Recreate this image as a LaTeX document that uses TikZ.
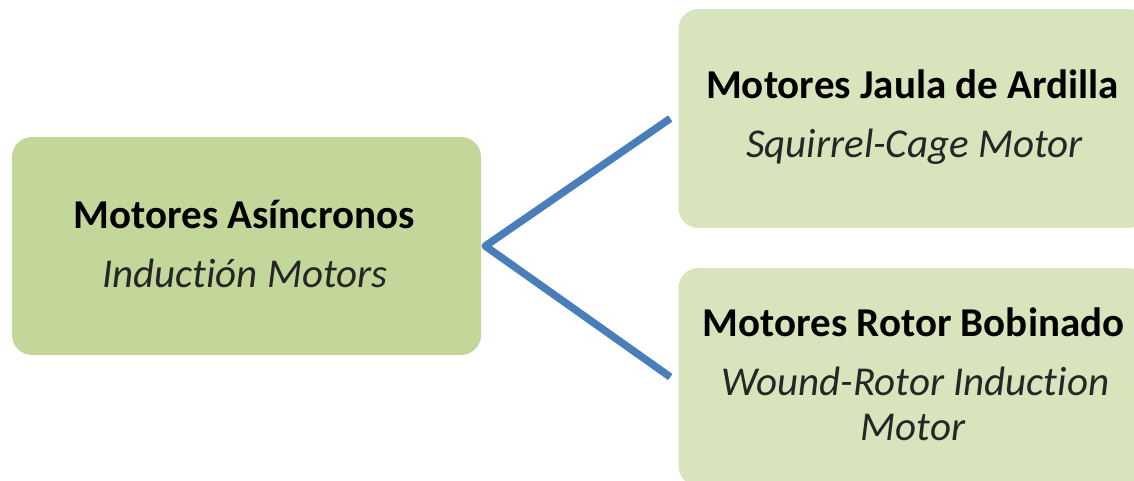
\documentclass[tikz,border=0pt]{standalone}
\usepackage{fontspec}
\setmainfont{Carlito}[Ligatures=NoCommon]
\usetikzlibrary{calc}
\definecolor{darkfill}{RGB}{196,215,155}
\definecolor{lightfill}{RGB}{216,228,188}
\definecolor{linkblue}{RGB}{74,126,187}
\begin{document}
\begin{tikzpicture}[x=1pt,y=-1pt,
  box/.style={rounded corners=20pt, minimum width=469pt, minimum height=218pt, inner sep=0pt, draw=none},
  title/.style={anchor=base, font=\fontsize{41}{45}\selectfont\bfseries, inner sep=0pt},
  sub/.style={anchor=base, font=\fontsize{41}{45}\selectfont\itshape, text=black!85, inner sep=0pt},
  conn/.style={draw=linkblue, line width=7.5pt, line join=round}]
\useasboundingbox (0,0) rectangle (1134,480);
\clip (0,0) rectangle (1134,480);
% boxes
\node[box, fill=darkfill] (as) at (246.5,246) {};
\node[box, fill=lightfill, minimum height=219pt] (sq) at (913,118.5) {};
\node[box, fill=lightfill] (wr) at (913,377) {};
% labels
\node[title] (asT) at (244,228) {Motores Asíncronos};
\node[sub] (asS) at (245,287) {Inductión Motors};
\node[title] (sqT) at (912.5,98) {Motores Jaula de Ardilla};
\node[sub] (sqS) at (914.5,157) {Squirrel-Cage Motor};
\node[title] (wrT) at (913.5,336) {Motores Rotor Bobinado};
\node[sub] (wrS1) at (915.5,395) {Wound-Rotor Induction};
\node[sub] (wrS2) at (913,440) {Motor};
% connectors
\draw[conn] ($(sq.west)+(-8,0)$) -- ($(as.east)+(4,0)$) -- ($(wr.west)+(-8,0)$);
\end{tikzpicture}
\end{document}
